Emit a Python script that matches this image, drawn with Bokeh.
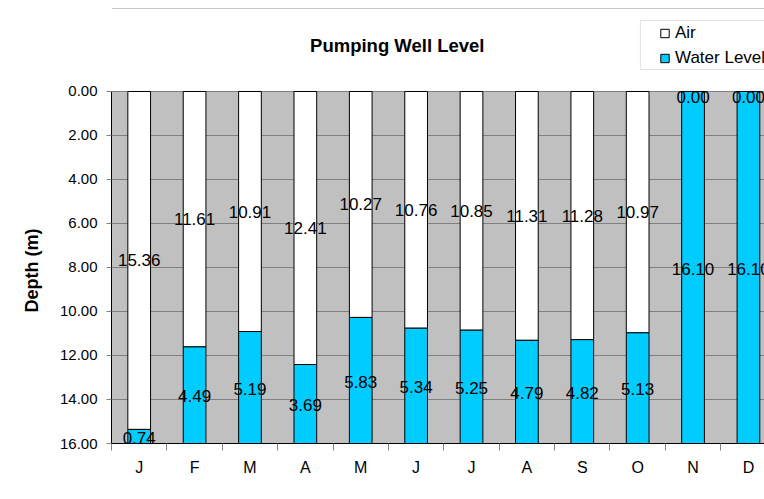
import numpy as np
from bokeh.plotting import figure
from bokeh.models import (Range1d, FixedTicker, NumeralTickFormatter, ColumnDataSource,
                          LabelSet, Label, Legend, LegendItem, BoxAnnotation, Title, Span)
from bokeh.core.properties import value
from bokeh.embed import file_html
from bokeh.resources import INLINE

months = ["J", "F", "M", "A", "M", "J", "J", "A", "S", "O", "N", "D"]
air = [15.36, 11.61, 10.91, 12.41, 10.27, 10.76, 10.85, 11.31, 11.28, 10.97, 0.00, 0.00]
water = [0.74, 4.49, 5.19, 3.69, 5.83, 5.34, 5.25, 4.79, 4.82, 5.13, 16.10, 16.10]
y_ticks = [0, 2, 4, 6, 8, 10, 12, 14, 16]

FONT = "Liberation Sans"
x = list(range(len(months)))
air_a = np.array(air)
water_a = np.array(water)
total = air_a + water_a

src = ColumnDataSource(dict(
    x=x, air=air, water=water, total=total.tolist(),
    air_lab=[f"{v:.2f}" for v in air], water_lab=[f"{v:.2f}" for v in water],
    air_mid=np.maximum(air_a / 2, 0.27).tolist(),
    water_mid=(air_a + water_a / 2).tolist(),
))

# frame reaches the top of the canvas so the title and legend are not clipped
p = figure(width=764, height=499, output_backend="svg", toolbar_location=None,
           x_range=Range1d(-0.5, 11.29), y_range=Range1d(16, -4.136),
           min_border_left=111, min_border_right=0, min_border_top=0, min_border_bottom=56)
p.background_fill_color = "white"
p.border_fill_color = "white"
p.outline_line_color = None
p.xgrid.grid_line_color = None
p.ygrid.grid_line_color = "#808080"
p.ygrid.ticker = FixedTicker(ticks=y_ticks)

# grey plot area
area = BoxAnnotation(top=y_ticks[0], bottom=y_ticks[-1], fill_color="#C0C0C0", fill_alpha=1,
                     line_color=None, level="image")
p.add_layout(area)

# chart-area top border
p.add_layout(Span(location=-3.773, dimension="width", line_color="#C8C8C8", line_width=1))

# axes
p.yaxis.ticker = FixedTicker(ticks=y_ticks)
p.yaxis.bounds = (y_ticks[0], y_ticks[-1])
p.yaxis.formatter = NumeralTickFormatter(format="0.00")
p.yaxis.major_tick_out = 5
p.yaxis.major_tick_in = 0
p.yaxis.minor_tick_line_color = None
p.yaxis.major_tick_line_color = "#808080"
p.yaxis.axis_line_color = "black"
p.yaxis.major_label_standoff = 9
p.yaxis.major_label_text_font = FONT
p.yaxis.major_label_text_font_size = "15px"
p.yaxis.major_label_text_color = "black"

ytitle = Title(text="Depth (m)", align="left", offset=131, vertical_align="bottom",
               standoff=30, text_font=FONT, text_font_style="bold",
               text_font_size="18px", text_color="black")
p.add_layout(ytitle, "left")

p.xaxis.ticker = FixedTicker(ticks=x, minor_ticks=[i - 0.5 for i in range(len(months) + 1)])
p.xaxis.major_label_overrides = {i: m for i, m in enumerate(months)}
p.xaxis.major_tick_line_color = None
p.xaxis.major_tick_out = 0
p.xaxis.major_tick_in = 0
p.xaxis.minor_tick_line_color = "#808080"
p.xaxis.minor_tick_out = 7
p.xaxis.minor_tick_in = 0
p.xaxis.axis_line_color = "black"
p.xaxis.major_label_standoff = 8
p.xaxis.major_label_text_font = FONT
p.xaxis.major_label_text_font_size = "16px"
p.xaxis.major_label_text_color = "black"

# bars
p.vbar(x="x", bottom=0, top="air", width=0.41, source=src,
       fill_color="white", line_color="black", line_width=1)
p.vbar(x="x", bottom="air", top="total", width=0.41, source=src,
       fill_color="#00CCFF", line_color="black", line_width=1)

# data labels
for col, ycol in (("air_lab", "air_mid"), ("water_lab", "water_mid")):
    p.add_layout(LabelSet(x="x", y=ycol, text=col, source=src,
                          text_align="center", text_baseline="middle",
                          text_font=value(FONT), text_font_size="17px",
                          text_color="black"))

# title
p.add_layout(Label(x=4.66, y=-2.09, text="Pumping Well Level", text_align="center",
                   text_baseline="alphabetic", text_font=FONT,
                   text_font_style="bold", text_font_size="18.5px", text_color="black"))

# legend frame
p.add_layout(BoxAnnotation(left=9.049, right=11.6, top=-3.227, bottom=-1.0,
                           fill_color="white", fill_alpha=1,
                           line_color="#A0A0A0", line_width=1))

# legend swatches (zero-size markers: only the legend shows them)
r_air = p.scatter(x="x", y="total", source=src, marker="square", size=0,
                  fill_color="white", line_color="black")
r_wat = p.scatter(x="x", y="total", source=src, marker="square", size=0,
                  fill_color="#00CCFF", line_color="black")
legend = Legend(items=[LegendItem(label="Air", renderers=[r_air], index=0),
                       LegendItem(label="Water Level", renderers=[r_wat], index=0)],
                location=(543, 374), orientation="vertical",
                glyph_width=21, glyph_height=22, label_height=20, label_standoff=0,
                spacing=3, padding=0, margin=0,
                border_line_color=None, background_fill_alpha=0,
                label_text_font=FONT, label_text_font_size="17px", label_text_color="black")
p.add_layout(legend, "center")

open("out.html", "w").write(file_html(p, INLINE))
